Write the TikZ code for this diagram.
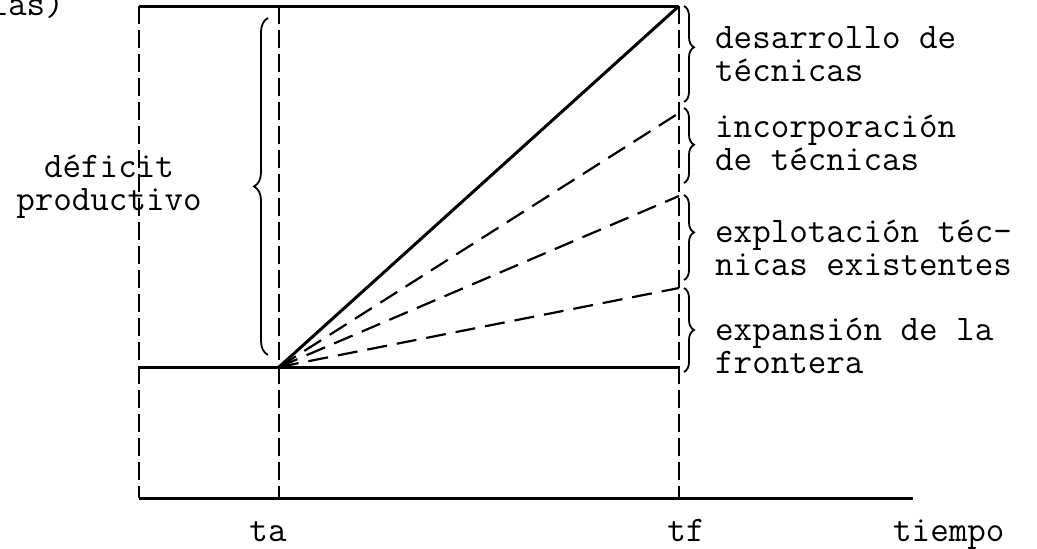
\documentclass[tikz,border=0pt]{standalone}
\usepackage{fontspec}
\usetikzlibrary{decorations.pathreplacing}
\begin{document}
\begin{tikzpicture}[x=1pt,y=-1pt,
  thickline/.style={line width=3pt},
  guide/.style={line width=1.4pt, dash pattern=on 18pt off 6pt},
  ray/.style={line width=2.2pt, dash pattern=on 20pt off 10pt},
  rbrace/.style={decorate, decoration={brace, amplitude=10pt, aspect=#1}, line width=1.8pt},
  lbl/.style={anchor=base west, inner sep=0pt, font=\ttfamily\fontsize{36}{32.5}\selectfont},
  ml/.style={lbl, align=left},
  lblc/.style={anchor=base, inner sep=0pt, font=\ttfamily\fontsize{36}{32.5}\selectfont}]
\useasboundingbox (0,0) rectangle (1037,549);
% key points
\coordinate (TL) at (139,6);
\coordinate (TA) at (279,6);
\coordinate (TF) at (679,6);
\coordinate (BL) at (139,498);
\coordinate (BA) at (279,498);
\coordinate (BF) at (679,498);
\coordinate (AX) at (913,498);
\coordinate (FL) at (139,367);
\coordinate (O) at (279,367);
\coordinate (FF) at (679,367);
\coordinate (E1) at (679,113);
\coordinate (E2) at (679,196);
\coordinate (E3) at (679,288);
% frame
\draw[thickline] (TL) -- (TF);
\draw[guide] (TL) -- (BL);
\draw[guide] (TA) -- (BA);
\draw[guide] (TF) -- (BF);
\draw[thickline] (FL) -- (FF);
\draw[thickline] (BL) -- (AX);
% rays
\draw[thickline] (O) -- (TF);
\draw[ray] (O) -- (E1);
\draw[ray] (O) -- (E2);
\draw[ray] (O) -- (E3);
% right braces
\coordinate (b1a) at (684,6);   \coordinate (b1b) at (684,102);
\coordinate (b2a) at (684,108); \coordinate (b2b) at (684,183);
\coordinate (b3a) at (684,195); \coordinate (b3b) at (684,280);
\coordinate (b4a) at (684,288); \coordinate (b4b) at (684,372);
\draw[rbrace=0.43] (b1a) -- (b1b);
\draw[rbrace=0.49] (b2a) -- (b2b);
\draw[rbrace=0.44] (b3a) -- (b3b);
\draw[rbrace=0.5] (b4a) -- (b4b);
% left brace
\coordinate (lba) at (268,355);
\coordinate (lbb) at (268,18);
\draw[decorate, decoration={brace, amplitude=14pt, aspect=0.5}, line width=1.8pt] (lba) -- (lbb);
% labels
\node[lbl, anchor=base east] (las) at (64,15) {las)};
\node[ml, align=center, anchor=base] (d) at (109,210) {déficit\\productivo};
\node[ml] (r1) at (715,81) {desarrollo de\\técnicas};
\node[ml] (r2) at (715,170) {incorporación\\de técnicas};
\node[ml] (r3) at (715,275) {explotación téc-\\nicas existentes};
\node[ml] (r4) at (715,373) {expansión de la\\frontera};
\node[lblc] (ta) at (268,541) {ta};
\node[lblc] (tf) at (686,541) {tf};
\node[lbl] (tiempo) at (893,541) {tiempo};
\end{tikzpicture}
\end{document}
